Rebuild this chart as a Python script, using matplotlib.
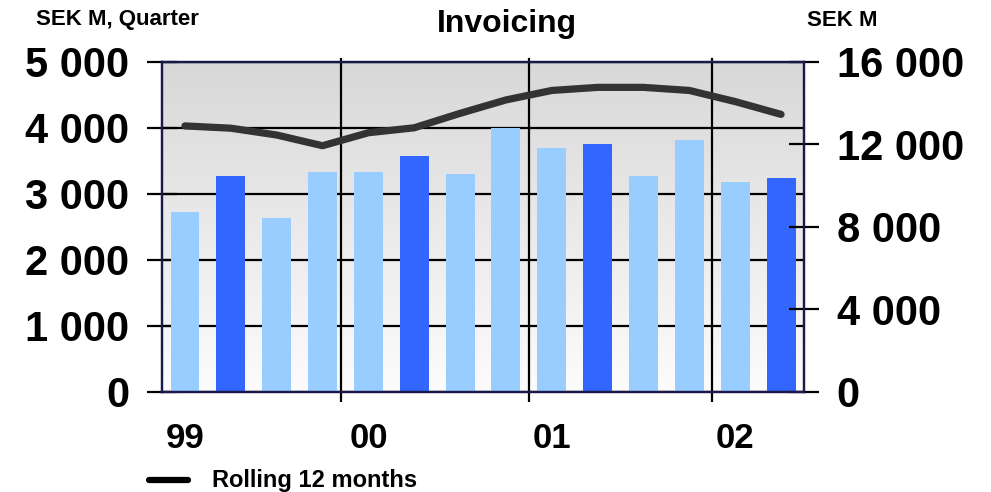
import numpy as np
import matplotlib.pyplot as plt
from matplotlib.colors import LinearSegmentedColormap
from matplotlib.ticker import FuncFormatter

# quarterly invoicing, SEK M (left axis)
quarters = ['99Q1', '99Q2', '99Q3', '99Q4', '00Q1', '00Q2', '00Q3', '00Q4',
            '01Q1', '01Q2', '01Q3', '01Q4', '02Q1', '02Q2']
invoicing = [2730, 3270, 2640, 3330, 3330, 3575, 3300, 4005,
             3700, 3760, 3270, 3820, 3180, 3240]
# rolling 12 months, SEK M (right axis)
rolling = [12900, 12790, 12460, 11940, 12570, 12810, 13510, 14160,
           14620, 14770, 14770, 14620, 14080, 13460]
years = ['99', '00', '01', '02']

light = '#99CCFF'
dark = '#3366FF'
navy = '#1a1a4a'
colors = [dark if q.endswith('Q2') else light for q in quarters]

plt.rcParams['font.family'] = ['Liberation Sans', 'DejaVu Sans']
plt.rcParams['font.weight'] = 'bold'

def sek(v, p):
    return f'{int(v):,}'.replace(',', ' ')

fig = plt.figure(figsize=(9.91, 4.92), dpi=100)
ax = fig.add_axes([0.1635, 0.2033, 0.6478, 0.6707])
x = np.arange(len(quarters))

# grey gradient background
grad = np.linspace(0, 1, 256).reshape(-1, 1)
ax.imshow(grad, cmap=LinearSegmentedColormap.from_list('bg', ['#fcfcfc', '#d8d8d8']),
          extent=[-0.5, 13.5, 0, 5000], aspect='auto', origin='lower', zorder=0)

ax.bar(x, invoicing, width=0.63, color=colors, zorder=3)
ax.set_xlim(-0.5, 13.5)
ax.set_ylim(0, 5000)
ax.set_yticks(range(0, 5001, 1000))
ax.set_axisbelow(True)
ax.yaxis.grid(True, color='black', lw=1.6)
ax.yaxis.set_major_formatter(FuncFormatter(sek))
ax.tick_params(axis='y', direction='inout', length=21, width=1.6, labelsize=30, pad=13)
for sp in ax.spines.values():
    sp.set_color(navy)
    sp.set_linewidth(1.6)
    sp.set_zorder(5)

# year separators
seps = [3.4, 7.5, 11.5]
ax.set_xticks(seps)
ax.set_xticklabels([])
ax.tick_params(axis='x', direction='out', length=7, width=1.6)
for s in seps:
    ax.axvline(s, ymin=0, ymax=1.01, color='black', lw=1.6, zorder=2, clip_on=False)
for i, y in enumerate(years):
    ax.text(i * 4, -700, y, ha='center', va='center', fontsize=25, fontweight='bold')

ax2 = ax.twinx()
ax2.plot(x, rolling, color='#333333', lw=5.2, solid_capstyle='round', solid_joinstyle='round', zorder=4)
ax2.set_ylim(0, 16000)
ax2.set_yticks(range(0, 16001, 4000))
ax2.yaxis.set_major_formatter(FuncFormatter(sek))
ax2.tick_params(axis='y', direction='inout', length=21, width=1.6, labelsize=30, pad=13)
for sp in ax2.spines.values():
    sp.set_color(navy)
    sp.set_linewidth(1.6)

fig.text(507 / 991, 1 - 24 / 492, 'Invoicing', ha='center', va='center', fontsize=23, fontweight='bold')
fig.text(36 / 991, 1 - 20 / 492, 'SEK M, Quarter', ha='left', va='center', fontsize=16, fontweight='bold')
fig.text(807 / 991, 1 - 20 / 492, 'SEK M', ha='left', va='center', fontsize=16, fontweight='bold')

# legend
fig.lines.append(plt.Line2D([149 / 991, 188 / 991], [1 - 480 / 492] * 2, transform=fig.transFigure,
                            color='black', lw=4.5, solid_capstyle='round'))
fig.text(212 / 991, 1 - 480 / 492, 'Rolling 12 months', ha='left', va='center', fontsize=17, fontweight='bold')

fig.savefig('out.png', dpi=100)
